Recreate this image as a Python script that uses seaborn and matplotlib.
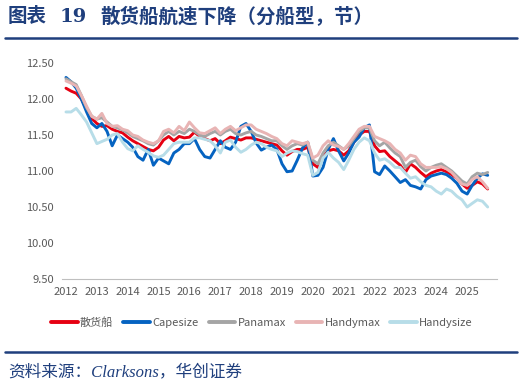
import matplotlib
matplotlib.use("Agg")
import matplotlib.pyplot as plt
import matplotlib.dates as mdates
import pandas as pd
import seaborn as sns

# bi-monthly readings (Jan, Mar, May, Jul, Sep, Nov), 2012-01 .. 2025-09, knots
dates = pd.date_range("2012-01-01", periods=83, freq="2MS")

bulk = [12.15, 12.11, 12.08, 12.00, 11.86, 11.73,
        11.66, 11.62, 11.63, 11.58, 11.55, 11.53,
        11.47, 11.42, 11.38, 11.34, 11.30, 11.28,
        11.33, 11.43, 11.48, 11.42, 11.48, 11.46,
        11.47, 11.54, 11.48, 11.45, 11.42, 11.45,
        11.38, 11.42, 11.47, 11.45, 11.43, 11.46,
        11.46, 11.44, 11.42, 11.40, 11.38, 11.36,
        11.28, 11.22, 11.27, 11.30, 11.30, 11.33,
        11.10, 11.05, 11.20, 11.28, 11.30, 11.28,
        11.22, 11.28, 11.40, 11.50, 11.55, 11.55,
        11.35, 11.27, 11.28, 11.20, 11.14, 11.08,
        10.98, 11.10, 11.05, 10.98, 10.92, 10.97,
        11.00, 11.02, 10.99, 10.95, 10.90, 10.82,
        10.76, 10.80, 10.85, 10.82, 10.75]

capesize = [12.30, 12.24, 12.15, 12.00, 11.82, 11.66,
            11.60, 11.66, 11.55, 11.35, 11.50, 11.45,
            11.40, 11.33, 11.20, 11.15, 11.30, 11.08,
            11.18, 11.14, 11.10, 11.25, 11.30, 11.38,
            11.38, 11.45, 11.30, 11.20, 11.18, 11.30,
            11.42, 11.33, 11.30, 11.40, 11.62, 11.66,
            11.55, 11.39, 11.29, 11.33, 11.36, 11.30,
            11.10, 10.99, 11.00, 11.15, 11.32, 11.40,
            10.93, 10.94, 11.05, 11.30, 11.45, 11.28,
            11.14, 11.25, 11.40, 11.47, 11.60, 11.64,
            10.99, 10.95, 11.07, 11.00, 10.92, 10.84,
            10.88, 10.80, 10.78, 10.75, 10.88, 10.93,
            10.95, 10.97, 10.95, 10.90, 10.83, 10.72,
            10.68, 10.80, 10.90, 10.96, 10.94]

panamax = [12.28, 12.24, 12.20, 12.05, 11.88, 11.76,
           11.72, 11.74, 11.68, 11.62, 11.60, 11.57,
           11.53, 11.48, 11.45, 11.42, 11.38, 11.36,
           11.42, 11.50, 11.55, 11.50, 11.55, 11.52,
           11.58, 11.55, 11.50, 11.48, 11.52, 11.55,
           11.50, 11.55, 11.58, 11.52, 11.50, 11.53,
           11.55, 11.50, 11.48, 11.45, 11.42, 11.42,
           11.35, 11.30, 11.35, 11.38, 11.36, 11.40,
           11.15, 11.10, 11.25, 11.35, 11.40, 11.35,
           11.30, 11.35, 11.45, 11.55, 11.60, 11.60,
           11.42, 11.35, 11.40, 11.32, 11.25, 11.20,
           11.05, 11.12, 11.15, 11.06, 11.00, 11.05,
           11.08, 11.10, 11.05, 11.00, 10.93, 10.86,
           10.82, 10.92, 10.97, 10.95, 10.98]

handymax = [12.25, 12.22, 12.18, 12.05, 11.90, 11.76,
            11.72, 11.80, 11.66, 11.62, 11.63, 11.58,
            11.56, 11.50, 11.48, 11.43, 11.40, 11.38,
            11.42, 11.55, 11.58, 11.53, 11.62, 11.56,
            11.68, 11.60, 11.53, 11.52, 11.56, 11.60,
            11.52, 11.58, 11.62, 11.56, 11.60, 11.64,
            11.64, 11.58, 11.55, 11.52, 11.48, 11.45,
            11.38, 11.35, 11.42, 11.40, 11.38, 11.40,
            11.18, 11.22, 11.35, 11.42, 11.36, 11.34,
            11.30, 11.38, 11.48, 11.58, 11.62, 11.62,
            11.48, 11.45, 11.42, 11.38, 11.30, 11.25,
            11.15, 11.22, 11.20, 11.10, 11.05, 11.05,
            11.05, 11.06, 11.03, 10.98, 10.90, 10.82,
            10.80, 10.88, 10.92, 10.85, 10.76]

handysize = [11.82, 11.82, 11.87, 11.78, 11.68, 11.53,
             11.38, 11.41, 11.44, 11.50, 11.52, 11.40,
             11.31, 11.28, 11.35, 11.30, 11.26, 11.21,
             11.19, 11.22, 11.30, 11.38, 11.40, 11.40,
             11.40, 11.46, 11.46, 11.44, 11.42, 11.35,
             11.25, 11.40, 11.43, 11.33, 11.26, 11.30,
             11.36, 11.40, 11.38, 11.33, 11.30, 11.28,
             11.20, 11.25, 11.28, 11.27, 11.24, 11.22,
             10.94, 10.98, 11.18, 11.26, 11.18, 11.12,
             11.02, 11.15, 11.30, 11.40, 11.46, 11.42,
             11.25, 11.15, 11.17, 11.12, 11.05, 11.05,
             10.97, 10.90, 10.92, 10.85, 10.80, 10.78,
             10.72, 10.68, 10.75, 10.72, 10.65, 10.60,
             10.50, 10.55, 10.60, 10.58, 10.50]

names = ["散货船", "Capesize", "Panamax", "Handymax", "Handysize"]
colors = ["#E60012", "#0563C1", "#A5A5A5", "#E8B4B4", "#B7DDE8"]

df = pd.concat([
    pd.DataFrame({"date": dates, "speed": vals, "type": name})
    for name, vals in zip(names, [bulk, capesize, panamax, handymax, handysize])
])

sns.set_style("white")
plt.rcParams["font.family"] = ["Noto Sans CJK SC", "DejaVu Sans"]

navy = "#1F3F7D"
grey = "#595959"

fig = plt.figure(figsize=(5.24, 3.88), dpi=100)
ax = fig.add_axes([62 / 524, 1 - 279 / 388, 435 / 524, 216 / 388])

sns.lineplot(data=df, x="date", y="speed", hue="type", hue_order=names,
             palette=colors, linewidth=2.1, ax=ax, legend=False)

ax.set_ylim(9.5, 12.5)
ax.set_yticks([9.5, 10.0, 10.5, 11.0, 11.5, 12.0, 12.5])
ax.yaxis.set_major_formatter(matplotlib.ticker.FormatStrFormatter("%.2f"))
ax.set_xlim(pd.Timestamp("2011-11-15"), pd.Timestamp("2025-12-20"))
ax.xaxis.set_major_locator(mdates.YearLocator())
ax.xaxis.set_major_formatter(mdates.DateFormatter("%Y"))
ax.set_xlabel("")
ax.set_ylabel("")
ax.tick_params(axis="both", length=0, labelsize=8, labelcolor=grey, pad=6)
for side in ["top", "right", "left"]:
    ax.spines[side].set_visible(False)
ax.spines["bottom"].set_color("#BFBFBF")
ax.spines["bottom"].set_linewidth(0.8)

handles = [plt.Line2D([], [], color=c, linewidth=2.8) for c in colors]
fig.legend(handles, names, loc="center", bbox_to_anchor=(0.5, 1 - 323 / 388),
           ncol=5, frameon=False, fontsize=8, labelcolor=grey,
           handlelength=2.4, handletextpad=0.2, columnspacing=0.9)

# title and rules
fig.text(8 / 524, 1 - 17 / 388, "图表", fontsize=14, fontweight="bold",
         color=navy, va="center", ha="left")
fig.text(60 / 524, 1 - 17 / 388, "19", fontsize=14, fontweight="bold",
         color=navy, va="center", ha="left", family="DejaVu Serif")
fig.text(100 / 524, 1 - 17 / 388, "散货船航速下降（分船型，节）", fontsize=14,
         fontweight="bold", color=navy, va="center", ha="left")
fig.add_artist(plt.Line2D([5 / 524, 517 / 524], [1 - 38 / 388] * 2,
                          color=navy, linewidth=1.8))
fig.add_artist(plt.Line2D([5 / 524, 517 / 524], [1 - 352 / 388] * 2,
                          color=navy, linewidth=1.8))
fig.text(8 / 524, 1 - 372 / 388, "资料来源：Clarksons，华创证券", fontsize=12,
         style="italic", color=navy, va="center", ha="left",
         family=["Liberation Serif", "Noto Sans CJK SC"])

fig.savefig("out.png", dpi=100)
